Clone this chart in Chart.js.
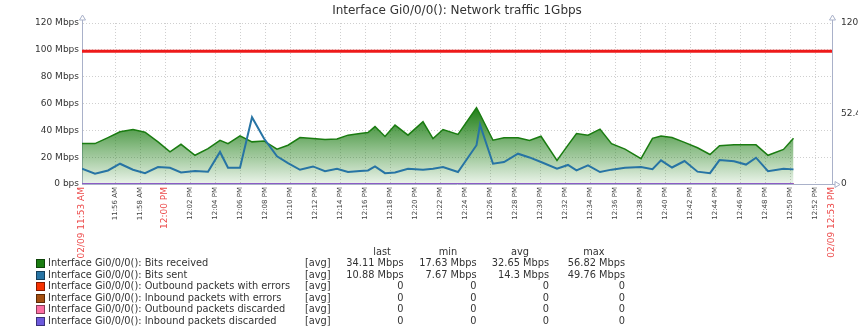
<!DOCTYPE html>
<html>
<head>
<meta charset="utf-8">
<script src="https://cdn.jsdelivr.net/npm/chart.js@4.4.1/dist/chart.umd.min.js"></script>
<style>
  body { margin: 0; background: #fff; font-family: 'DejaVu Sans', sans-serif; }
  #wrap { position: relative; width: 858px; height: 335px; overflow: hidden; }
  #traffic { position: absolute; left: 0; top: 0; }
  #legend { position: absolute; left: 0; top: 0; width: 858px; height: 335px; font-size: 9.8px; color: #333; }
  #legend span { position: absolute; white-space: nowrap; line-height: 12px; }
  #legend .box { width: 7px; height: 7px; border: 1px solid rgba(0, 0, 0, .45); }
</style>
</head>
<body>
<div id="wrap">
  <canvas id="traffic" width="858" height="262"></canvas>
  <div id="legend"></div>
</div>
<script>
// sample times, minutes relative to 12:00 PM (02/09)
const sampleMinutes = [
  -6.64, -5.6, -4.56, -3.6, -2.56, -1.6, -0.56, 0.4, 1.28, 2.4, 3.44, 4.4, 5.04, 6.0, 6.96, 7.92,
  8.96, 9.84, 10.8, 11.84, 12.8, 13.76, 14.64, 15.6, 16.24, 16.8, 17.6, 18.4, 19.44, 20.64, 21.44,
  22.24, 23.44, 24.92, 25.2, 26.24, 27.12, 28.24, 29.16, 30.08, 31.36, 32.24, 32.92, 33.84, 34.8,
  35.72, 36.8, 38.08, 39.0, 39.68, 40.56, 41.56, 42.6, 43.6, 44.36, 45.52, 46.48, 47.28, 48.24,
  49.48, 50.28
];
// Mbps
const bitsReceived = [
  30.1, 30.1, 34.6, 38.9, 40.6, 38.6, 31.4, 24, 29.6, 21.4, 26.4, 32.6, 30.1, 35.9, 31.4, 32.1,
  25.9, 28.9, 34.6, 33.9, 33.1, 33.6, 36.4, 37.6, 38.3, 42.8, 35.4, 43.9, 36.4, 46.4, 33.9,
  40.6, 37, 56.8, 52, 32.6, 34.4, 34.4, 32.4, 35.6, 17.6, 29, 37.6, 36.4, 40.9,
  30.1, 26, 18.9, 34, 35.8, 34.6, 31, 27, 22, 28.5, 29.2, 29.2, 29.2, 21.4,
  25.8, 34.1
];
const bitsSent = [
  11.4, 7.6, 10.1, 15.1, 10.6, 8.1, 12.6, 12.1, 8.6, 9.6, 9.1, 23.9, 12.1, 12.1, 49.8, 33.9,
  20.6, 15.6, 10.6, 13.1, 9.6, 11.4, 8.9, 9.6, 10.1, 13.1, 8.1, 8.6, 11.4, 10.6, 11.4,
  12.6, 8.9, 28.9, 44.2, 15.1, 16.4, 22.6, 19.8, 16.4, 11.4, 14.2, 10.1, 13.9, 8.9,
  10.7, 12.1, 12.6, 11, 17.6, 12.3, 17.1, 9.2, 8.1, 17.8, 16.9, 14.5, 19.6, 9.6,
  11.4, 10.9
];
// packet error / discard counters stayed at 0 the whole hour (see legend)
const packetCounters = new Array(sampleMinutes.length).fill(0);

const trafficLimit = 99;          // red line just under 100 Mbps
const viewStart = -6.64;          // 11:53 AM
const viewEnd = 53.36;            // 12:53 PM
const timeTicks = [-4, -2, 0, 2, 4, 6, 8, 10, 12, 14, 16, 18, 20, 22, 24, 26, 28, 30, 32, 34, 36, 38, 40, 42, 44, 46, 48, 50, 52];
const mbpsTicks = [0, 20, 40, 60, 80, 100, 120];
const rightTicks = [0, 52.4, 120];

const legendNames = [
  'Interface Gi0/0/0(): Bits received',
  'Interface Gi0/0/0(): Bits sent',
  'Interface Gi0/0/0(): Outbound packets with errors',
  'Interface Gi0/0/0(): Inbound packets with errors',
  'Interface Gi0/0/0(): Outbound packets discarded',
  'Interface Gi0/0/0(): Inbound packets discarded'
];
const legendColors = ['#1A7C11', '#2774A4', '#F63100', '#A54F10', '#FC6EA3', '#6C59DC'];
const statHeaders = ['last', 'min', 'avg', 'max'];
const statLast = ['34.11 Mbps', '10.88 Mbps', '0', '0', '0', '0'];
const statMin = ['17.63 Mbps', '7.67 Mbps', '0', '0', '0', '0'];
const statAvg = ['32.65 Mbps', '14.3 Mbps', '0', '0', '0', '0'];
const statMax = ['56.82 Mbps', '49.76 Mbps', '0', '0', '0', '0'];

const FONT = "'DejaVu Sans', sans-serif";
const AXIS = '#a9b1c9';
const GRID = '#cfcfcf';

function points(values) {
  return sampleMinutes.map((m, i) => ({ x: m, y: values[i] }));
}

function clock(m) {
  const total = Math.floor(720 + m + 1e-6);
  let h = Math.floor(total / 60) % 12;
  if (h === 0) h = 12;
  return h + ':' + String(total % 60).padStart(2, '0') + (total >= 720 ? ' PM' : ' AM');
}

function isEdge(v) {
  return v === viewStart || v === viewEnd;
}

function isMarked(c) {
  if (!c.tick) return false;
  const v = c.tick.value;
  return isEdge(v) || v % 60 === 0;
}

function greenFill(context) {
  const chart = context.chart;
  if (!chart.chartArea) return 'rgba(26,124,17,0.4)';
  const y = chart.scales.y;
  const g = chart.ctx.createLinearGradient(0, y.getPixelForValue(55), 0, y.getPixelForValue(0));
  g.addColorStop(0, 'rgba(26,124,17,0.95)');
  g.addColorStop(1, 'rgba(26,124,17,0.09)');
  return g;
}

const axisArrows = {
  id: 'axisArrows',
  afterDraw(chart) {
    const { ctx, chartArea: a } = chart;
    ctx.save();
    ctx.strokeStyle = AXIS;
    ctx.fillStyle = '#fff';
    ctx.lineWidth = 1;
    [a.left, a.right].forEach(x => {
      const px = Math.round(x) + 0.5;
      ctx.beginPath();
      ctx.moveTo(px, a.top);
      ctx.lineTo(px, a.top - 3);
      ctx.stroke();
      ctx.beginPath();
      ctx.moveTo(px - 3, a.top - 3);
      ctx.lineTo(px + 3, a.top - 3);
      ctx.lineTo(px, a.top - 8);
      ctx.closePath();
      ctx.fill();
      ctx.stroke();
    });
    const py = Math.round(a.bottom) + 0.5;
    ctx.beginPath();
    ctx.moveTo(a.right, py);
    ctx.lineTo(a.right + 3, py);
    ctx.stroke();
    ctx.beginPath();
    ctx.moveTo(a.right + 3, py - 3);
    ctx.lineTo(a.right + 3, py + 3);
    ctx.lineTo(a.right + 8, py);
    ctx.closePath();
    ctx.fill();
    ctx.stroke();
    ctx.restore();
  }
};

function zeroLine(i) {
  return {
    data: points(packetCounters),
    yAxisID: 'y1',
    borderColor: legendColors[i],
    borderWidth: 1.5,
    pointRadius: 0,
    order: 7 - i
  };
}

let trafficChart = new Chart(document.getElementById('traffic').getContext('2d'), {
  type: 'line',
  data: {
    datasets: [{
      data: [{ x: viewStart, y: trafficLimit }, { x: viewEnd, y: trafficLimit }],
      borderColor: '#ee1a1a',
      borderWidth: 3,
      pointRadius: 0,
      order: 0
    }, {
      data: points(bitsSent),
      borderColor: legendColors[1],
      borderWidth: 2,
      pointRadius: 0,
      order: 1
    },
      zeroLine(5), zeroLine(4), zeroLine(3), zeroLine(2),
    {
      data: points(bitsReceived),
      borderColor: legendColors[0],
      backgroundColor: greenFill,
      borderWidth: 1.5,
      fill: 'origin',
      pointRadius: 0,
      order: 9
    }]
  },
  options: {
    responsive: false,
    animation: false,
    devicePixelRatio: 1,
    layout: { padding: 0 },
    elements: { line: { tension: 0 } },
    plugins: {
      legend: { display: false },
      tooltip: { enabled: false },
      title: {
        display: true,
        fullSize: false,
        text: 'Interface Gi0/0/0(): Network traffic 1Gbps',
        color: '#333',
        font: { family: FONT, size: 12, weight: 'normal', lineHeight: 1.2 },
        padding: { top: 3.5, bottom: 5.1 }
      }
    },
    scales: {
      x: {
        type: 'linear',
        min: viewStart,
        max: viewEnd,
        afterBuildTicks: scale => {
          scale.ticks = [viewStart, ...timeTicks, viewEnd].map(v => ({ value: v }));
        },
        afterFit: scale => { scale.height = 78; },
        grid: {
          drawTicks: false,
          color: c => (c.tick && isEdge(c.tick.value)) ? 'rgba(0,0,0,0)' : GRID
        },
        border: { color: AXIS, dash: [1, 2] },
        ticks: {
          autoSkip: false,
          minRotation: 90,
          maxRotation: 90,
          padding: 3,
          color: c => isMarked(c) ? '#ec4a4a' : '#444',
          font: c => ({ family: FONT, size: isMarked(c) ? 9 : 7 }),
          callback: v => isEdge(v) ? '02/09 ' + clock(v) : clock(v)
        }
      },
      y: {
        min: 0,
        max: 120,
        afterBuildTicks: scale => {
          scale.ticks = mbpsTicks.map(v => ({ value: v }));
        },
        afterFit: scale => { scale.width = 82; },
        grid: {
          drawTicks: false,
          color: c => (c.tick && c.tick.value === 0) ? 'rgba(0,0,0,0)' : GRID
        },
        border: { color: AXIS, dash: [1, 2] },
        ticks: {
          padding: 3,
          color: '#333',
          font: { family: FONT, size: 9 },
          callback: v => v === 0 ? '0 bps' : v + ' Mbps'
        }
      },
      y1: {
        position: 'right',
        min: 0,
        max: 120,
        afterBuildTicks: scale => {
          scale.ticks = rightTicks.map(v => ({ value: v }));
        },
        afterFit: scale => { scale.width = 26; },
        grid: { display: false, drawTicks: false },
        border: { color: AXIS },
        ticks: {
          padding: 9,
          color: '#333',
          font: { family: FONT, size: 9 },
          callback: v => String(v)
        }
      }
    }
  },
  plugins: [axisArrows]
});

// legend table under the graph
const legend = document.getElementById('legend');
const colRight = [403.5, 476.5, 549, 625];
const headCenter = [382, 448, 520, 594];
const stats = [statLast, statMin, statAvg, statMax];

function put(text, left, top, style) {
  const s = document.createElement('span');
  s.textContent = text;
  s.style.left = left + 'px';
  s.style.top = top + 'px';
  Object.assign(s.style, style || {});
  legend.appendChild(s);
  return s;
}

statHeaders.forEach((h, j) => {
  put(h, headCenter[j] - 40, 246, { width: '80px', textAlign: 'center' });
});

legendNames.forEach((name, i) => {
  const mid = 263 + i * 11.5;
  const box = put('', 36, mid - 4, { background: legendColors[i] });
  box.className = 'box';
  put(name, 48, mid - 6);
  put('[avg]', 305, mid - 6);
  stats.forEach((col, j) => {
    put(col[i], colRight[j] - 90, mid - 6, { width: '90px', textAlign: 'right' });
  });
});
</script>
</body>
</html>
